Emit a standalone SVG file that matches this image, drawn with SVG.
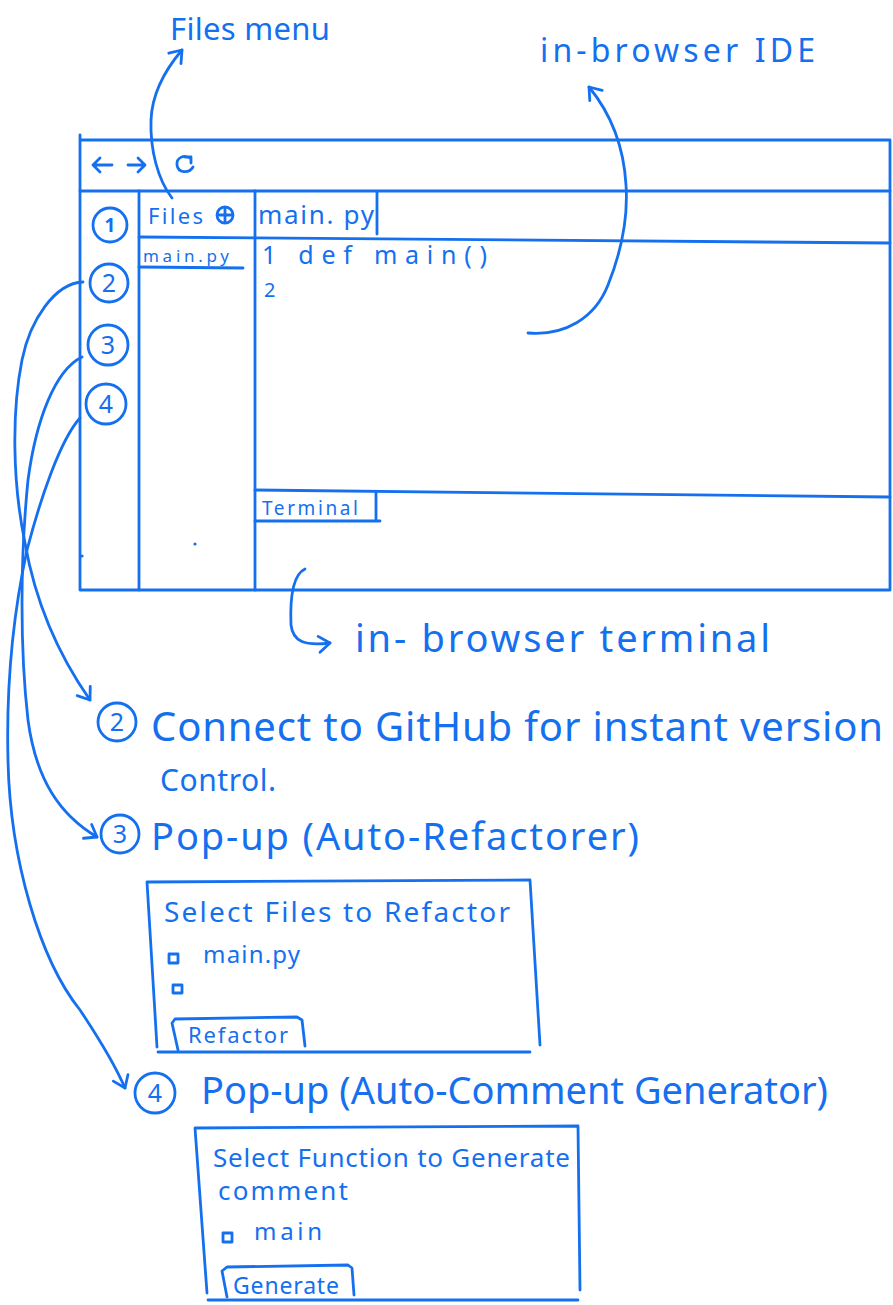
<svg xmlns="http://www.w3.org/2000/svg" width="893" height="1305" viewBox="0 0 893 1305">
  <defs>
    <style>
      .s{fill:none;stroke:#1570ef;stroke-width:2.8;stroke-linecap:round;stroke-linejoin:round}
      .f{fill:#1570ef}
      .t{fill:#1570ef;font-family:"Noto Sans","Open Sans","Liberation Sans",sans-serif;font-weight:400}
      .num{fill:#1570ef;font-family:"Noto Sans","Liberation Sans",sans-serif;text-anchor:middle}
    </style>
    <marker id="ah" viewBox="0 0 20 20" markerWidth="20" markerHeight="20" refX="14" refY="10" orient="auto" markerUnits="userSpaceOnUse">
      <path d="M3,2 L14,10 L3,18" fill="none" stroke="#1570ef" stroke-width="2.8" stroke-linecap="round" stroke-linejoin="round"/>
    </marker>
  </defs>
  <rect width="893" height="1305" fill="#ffffff"/>

  <!-- browser window with the IDE layout -->
  <g id="browser-window">
    <path class="s" d="M80,135 L80,590 L890,590 L890,140 L80,140"/>
    <path class="s" d="M80,191 L890,191"/>
    <!-- toolbar: back, forward, reload -->
    <path class="s" d="M112,165 L93,165 M100,158 L93,165 L100,172"/>
    <path class="s" d="M128,165 L145,165 M138,158 L145,165 L138,172"/>
    <path class="s" d="M190,158 C184,154 176,158 177,165 C178,173 189,174 193,167 M185,157 L191,157 L191,163"/>
    <!-- column dividers -->
    <path class="s" d="M139,191 L139,590"/>
    <path class="s" d="M255,191 L255,590"/>
    <!-- tab row -->
    <path class="s" d="M139,237 L890,243"/>
    <path class="s" d="M377,192 L377,234"/>
    <!-- terminal split -->
    <path class="s" d="M255,490 L890,497"/>
    <path class="s" d="M255,521 L380,521 M376,493 L376,521"/>
    <circle class="f" cx="82" cy="556" r="1.6"/>
    <circle class="f" cx="195" cy="544" r="1.6"/>
  </g>

  <g id="sidebar-1">
    <circle class="s" cx="110" cy="225" r="17"/>
    <text class="num" x="110" y="232" font-size="19" font-weight="700">1</text>
  </g>
  <g id="sidebar-2">
    <circle class="s" cx="109" cy="283" r="19"/>
    <text class="num" x="109" y="292" font-size="25">2</text>
  </g>
  <g id="sidebar-3">
    <circle class="s" cx="108" cy="345" r="20"/>
    <text class="num" x="108" y="354" font-size="25">3</text>
  </g>
  <g id="sidebar-4">
    <circle class="s" cx="106" cy="404" r="20"/>
    <text class="num" x="106" y="413" font-size="25">4</text>
  </g>

  <g id="files-panel">
    <text class="t" x="148" y="224" font-size="22" textLength="55" lengthAdjust="spacing">Files</text>
    <circle class="s" cx="225" cy="215" r="8" stroke-width="2.2"/>
    <path class="s" d="M225,209 L225,221 M219,215 L231,215" stroke-width="2.2"/>
    <text class="t" x="143" y="262" font-size="17" textLength="86" lengthAdjust="spacing">main.py</text>
    <path class="s" d="M139,267 L243,268" stroke-width="2.4"/>
  </g>

  <g id="editor">
    <text class="t" x="258" y="224" font-size="26" textLength="116" lengthAdjust="spacing">main. py</text>
    <text class="t" x="262" y="264" font-size="25" textLength="225" lengthAdjust="spacing">1 def main()</text>
    <text class="t" x="264" y="297" font-size="20">2</text>
  </g>

  <g id="terminal">
    <text class="t" x="262" y="515" font-size="19" textLength="96" lengthAdjust="spacing">Terminal</text>
  </g>

  <!-- callout labels -->
  <g id="label-files-menu">
    <text class="t" x="170" y="40" font-size="31" textLength="160" lengthAdjust="spacing">Files menu</text>
  </g>
  <g id="label-ide">
    <text class="t" x="540" y="62" font-size="32" textLength="275" lengthAdjust="spacing">in-browser IDE</text>
  </g>
  <g id="label-terminal">
    <text class="t" x="355" y="652" font-size="38" textLength="415" lengthAdjust="spacing">in- browser terminal</text>
  </g>

  <!-- feature 2 -->
  <g id="feature-github">
    <circle class="s" cx="117" cy="722" r="19"/>
    <text class="num" x="117" y="731" font-size="25">2</text>
    <text class="t" x="151" y="741" font-size="40" textLength="732" lengthAdjust="spacing">Connect to GitHub for instant version</text>
    <text class="t" x="160" y="791" font-size="30" textLength="116" lengthAdjust="spacing">Control.</text>
  </g>

  <!-- feature 3: refactor pop-up -->
  <g id="feature-refactor">
    <circle class="s" cx="120" cy="834" r="19"/>
    <text class="num" x="120" y="843" font-size="25">3</text>
    <text class="t" x="151" y="850" font-size="38" textLength="488" lengthAdjust="spacing">Pop-up (Auto-Refactorer)</text>
  </g>
  <g id="popup-refactor">
    <path class="s" d="M157,1047 L147,882 L530,880 L540,1045"/>
    <path class="s" d="M158,1052 L530,1052"/>
    <text class="t" x="164" y="922" font-size="28" textLength="346" lengthAdjust="spacing">Select Files to Refactor</text>
    <rect class="s" x="169" y="954" width="9" height="9" stroke-width="2.3"/>
    <text class="t" x="203" y="963" font-size="24" textLength="97" lengthAdjust="spacing">main.py</text>
    <rect class="s" x="173" y="985" width="9" height="8" stroke-width="2.3"/>
    <path class="s" d="M178,1050 L172,1023 L175,1019 L297,1017 L302,1020 L305,1046"/>
    <text class="t" x="188" y="1043" font-size="22" textLength="100" lengthAdjust="spacing">Refactor</text>
  </g>

  <!-- feature 4: comment generator pop-up -->
  <g id="feature-comments">
    <circle class="s" cx="155" cy="1093" r="20"/>
    <text class="num" x="155" y="1102" font-size="25">4</text>
    <text class="t" x="201" y="1104" font-size="38" textLength="627" lengthAdjust="spacing">Pop-up (Auto-Comment Generator)</text>
  </g>
  <g id="popup-comments">
    <path class="s" d="M207,1293 L195,1128 L578,1126 L580,1290"/>
    <path class="s" d="M208,1300 L578,1300"/>
    <text class="t" x="213" y="1167" font-size="26" textLength="357" lengthAdjust="spacing">Select Function to Generate</text>
    <text class="t" x="218" y="1200" font-size="26" textLength="130" lengthAdjust="spacing">comment</text>
    <rect class="s" x="223" y="1233" width="9" height="9" stroke-width="2.3"/>
    <text class="t" x="254" y="1240" font-size="24" textLength="68" lengthAdjust="spacing">main</text>
    <path class="s" d="M227,1297 L222,1271 L227,1267 L348,1265 L352,1268 L354,1295"/>
    <text class="t" x="233" y="1294" font-size="23" textLength="106" lengthAdjust="spacing">Generate</text>
  </g>

  <!-- connectors -->
  <g id="connectors">
    <path class="s" marker-end="url(#ah)" d="M172,198 C158,180 150,150 151,120 C152,95 165,70 182,50"/>
    <path class="s" marker-end="url(#ah)" d="M528,333 C565,336 595,318 608,285 C622,250 628,215 626,185 C624,150 612,115 589,87"/>
    <path class="s" marker-end="url(#ah)" d="M305,569 C292,575 290,600 291,625 C293,642 305,646 330,643"/>
    <path class="s" marker-end="url(#ah)" d="M83,282 C55,283 30,320 22,360 C12,410 12,480 25,543 C35,600 55,650 90,700"/>
    <path class="s" marker-end="url(#ah)" d="M82,357 C55,370 36,420 28,480 C20,560 20,650 28,720 C36,780 60,815 97,837"/>
    <path class="s" marker-end="url(#ah)" d="M80,418 C60,440 40,500 27,550 C14,610 6,680 8,760 C10,860 40,960 80,1010 C100,1040 115,1065 125,1088"/>
  </g>
</svg>
